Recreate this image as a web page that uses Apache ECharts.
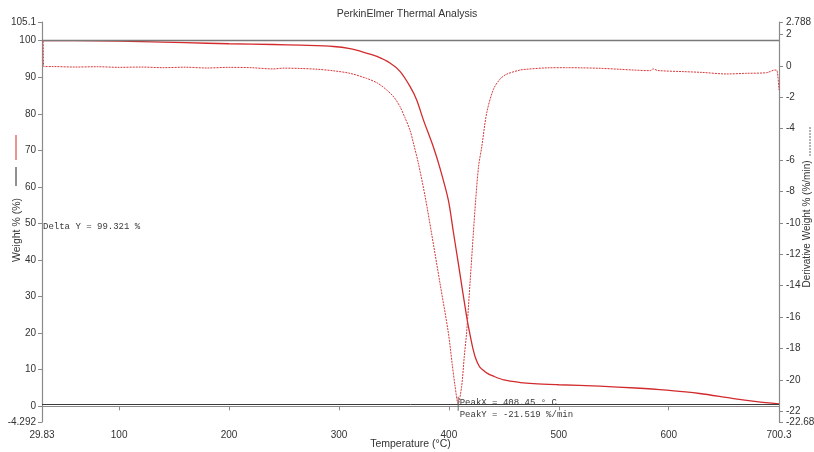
<!DOCTYPE html>
<html>
<head>
<meta charset="utf-8">
<script src="https://cdn.jsdelivr.net/npm/echarts@6/dist/echarts.min.js"></script>
<style>
  html, body { margin: 0; padding: 0; background: #fff; }
  #chart { width: 814px; height: 452px; }
</style>
</head>
<body>
<div id="chart"></div>
<script>
// TGA run: weight loss curve and its derivative (DTG)
const tgTemp = [29.83, 80, 120, 160, 200, 240, 265, 295, 310, 325, 334.5, 346.4, 355.5, 364.6, 370.7,
  376.7, 385.8, 392, 399.5, 404, 408.5, 413, 417, 420.9, 422.5, 424, 426, 428, 431, 435, 440, 450, 465, 477, 500,
  537, 570, 598, 628, 659, 680, 700.3];
const tgWeight = [100.0, 99.95, 99.75, 99.45, 99.15, 98.95, 98.75, 98.4, 97.8, 96.6, 95.7, 93.9, 91.6, 87.5, 83.8,
  78.4, 71.0, 65.0, 56.4, 47.8, 39.2, 30.5, 23.0, 17.1, 15.0, 13.4, 11.9, 10.8, 9.9, 9.0, 8.3, 7.2, 6.5, 6.2, 5.9,
  5.5, 5.0, 4.4, 3.5, 2.1, 1.3, 0.679];

const dtgTemp = [31.0, 31.4, 40, 60, 80, 100, 120, 140, 160, 180, 200, 220, 240, 250, 265, 280, 295, 310,
  325, 335, 343.4, 350, 355.5, 360, 364.6, 368, 372.2, 378.3, 384.3, 391.9, 399.5, 403, 405.6, 408.45,
  411.6, 414, 416.1, 419.2, 422.2, 424.4, 427, 429.9, 434.4, 440.5, 446.5, 452, 464.8, 470.7, 490,
  507, 520, 537.5, 555, 567.8, 583, 586, 590, 613, 630, 652.7, 670, 689, 696.6, 698.5, 700.3];
const dtgRate = [1.55, -0.05, -0.05, -0.08, -0.06, -0.1, -0.08, -0.12, -0.09, -0.14, -0.1, -0.12, -0.2, -0.15, -0.17, -0.22, -0.32, -0.48,
  -0.8, -1.1, -1.54, -2.0, -2.6, -3.3, -4.1, -5.0, -6.2, -8.3, -10.7, -13.85, -17.0, -19.0, -20.4, -21.519,
  -20.4, -18.5, -17.0, -13.85, -10.7, -8.5, -6.4, -5.15, -3.0, -1.5, -0.85, -0.55, -0.27, -0.22, -0.13,
  -0.12, -0.13, -0.16, -0.22, -0.27, -0.31, -0.2, -0.3, -0.37, -0.42, -0.52, -0.48, -0.44, -0.27, -0.3, -1.54];

// Axis tick values (ends of each axis are labelled with their exact limits)
const tempTicks = [29.83, 100, 200, 300, 400, 500, 600, 700.3];
const weightTicks = [-4.292, 0, 10, 20, 30, 40, 50, 60, 70, 80, 90, 100, 105.1];
const rateTicks = [-22.68, -22, -20, -18, -16, -14, -12, -10, -8, -6, -4, -2, 0, 2, 2.788];

// Cursor readouts
const weightStart = 100;
const deltaY = 99.321;
const peakX = 408.45;
const peakY = -21.519;

const RED = '#d22b2d';
const AXIS = '#8a8a8a';
const TXT = '#333';
const SANS = '"Liberation Sans", Arial, sans-serif';
const MONO = '"Liberation Mono", "DejaVu Sans Mono", monospace';

const tgData = tgTemp.map((t, i) => [t, tgWeight[i]]);
const dtgData = dtgTemp.map((t, i) => [t, dtgRate[i]]);

function axisCommon(ticks, labelMargin) {
  return {
    axisLine: { show: true, lineStyle: { color: AXIS, width: 1.2 } },
    axisTick: { show: true, length: 4, customValues: ticks, lineStyle: { color: AXIS } },
    axisLabel: {
      customValues: ticks, margin: labelMargin, color: TXT, fontSize: 10, fontFamily: SANS,
      showMinLabel: true, showMaxLabel: true, hideOverlap: false,
      formatter: v => String(v)
    },
    splitLine: { show: false }
  };
}

const chart = echarts.init(document.getElementById('chart'), null, { renderer: 'canvas' });
chart.setOption({
  animation: false,
  backgroundColor: '#fff',
  title: {
    text: 'PerkinElmer Thermal Analysis',
    left: 'center', top: 4,
    textStyle: { fontSize: 10.5, fontWeight: 'normal', color: TXT, fontFamily: SANS }
  },
  grid: { left: 42, right: 35, top: 22, bottom: 30, outerBoundsMode: 'none' },
  xAxis: Object.assign(axisCommon(tempTicks, 8), {
    type: 'value', min: 29.83, max: 700.3,
    name: 'Temperature (°C)', nameLocation: 'middle', nameGap: 17, nameMoveOverlap: false,
    nameTextStyle: { fontSize: 10.5, color: TXT, fontFamily: SANS }
  }),
  yAxis: [
    Object.assign(axisCommon(weightTicks, 6), {
      type: 'value', min: -4.292, max: 105.1, position: 'left'
    }),
    Object.assign(axisCommon(rateTicks, 7), {
      type: 'value', min: -22.68, max: 2.788, position: 'right'
    })
  ],
  series: [
    {
      name: 'Weight %',
      type: 'line', yAxisIndex: 0, data: tgData,
      showSymbol: false, smooth: 0.3, z: 3,
      lineStyle: { color: RED, width: 1.3 },
      markLine: {
        silent: true, symbol: 'none', label: { show: false },
        data: [
          { yAxis: weightStart, lineStyle: { color: '#7a7a7a', width: 1.4, type: 'solid' } },
          { yAxis: +(weightStart - deltaY).toFixed(3), lineStyle: { color: '#3a3a3a', width: 1, type: 'solid' } }
        ]
      }
    },
    {
      name: 'Derivative Weight %',
      type: 'line', yAxisIndex: 1, data: dtgData,
      showSymbol: false, smooth: 0.3, z: 4,
      lineStyle: { color: '#d8393b', width: 1, type: [2, 1] },
      markPoint: {
        silent: true,
        symbol: 'rect', symbolSize: [1, 14],
        itemStyle: { color: '#666' },
        data: [{
          coord: [peakX, peakY],
          label: {
            show: true, position: [2, 0], align: 'left', verticalAlign: 'top',
            color: '#3a3a3a', fontSize: 9, lineHeight: 12, fontFamily: MONO,
            formatter: 'PeakX = ' + peakX + ' ° C\nPeakY = ' + peakY + ' %/min'
          }
        }]
      }
    }
  ],
  graphic: [
    // Delta Y readout between the two horizontal cursor lines
    { type: 'text', left: 43, top: 222, silent: true,
      style: { text: 'Delta Y = ' + deltaY + ' %', fill: '#3a3a3a', fontSize: 9, fontFamily: MONO } },
    // Left axis title with its line keys
    { type: 'line', silent: true, shape: { x1: 16, y1: 135, x2: 16, y2: 160 }, style: { stroke: RED, lineWidth: 1 } },
    { type: 'line', silent: true, shape: { x1: 16, y1: 167, x2: 16, y2: 186 }, style: { stroke: '#222', lineWidth: 1 } },
    { type: 'text', x: 17, y: 230, rotation: Math.PI / 2, silent: true,
      style: { text: 'Weight % (%)', fill: TXT, fontSize: 10.5, fontFamily: SANS, align: 'center', verticalAlign: 'middle' } },
    // Right axis title with its dashed key
    { type: 'line', silent: true, shape: { x1: 810, y1: 127, x2: 810, y2: 157 },
      style: { stroke: '#666', lineWidth: 1, lineDash: [2, 1] } },
    { type: 'text', x: 807, y: 224, rotation: Math.PI / 2, silent: true,
      style: { text: 'Derivative Weight % (%/min)', fill: TXT, fontSize: 10, fontFamily: SANS, align: 'center', verticalAlign: 'middle' } }
  ]
});
</script>
</body>
</html>
